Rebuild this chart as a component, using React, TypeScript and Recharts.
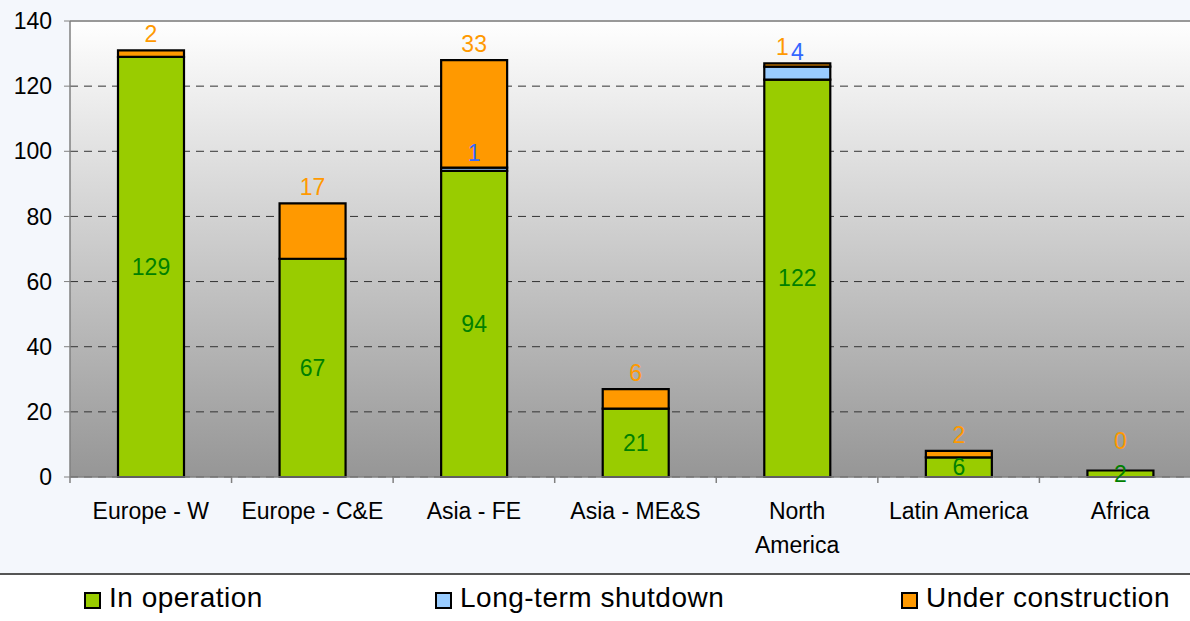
import React from 'react';
import { BarChart, Bar, XAxis, YAxis, CartesianGrid, ReferenceLine, Legend, LabelList } from 'recharts';

const regions = ['Europe - W', 'Europe - C&E', 'Asia - FE', 'Asia - ME&S', 'North America', 'Latin America', 'Africa'];
const tickLabels = [['Europe - W'], ['Europe - C&E'], ['Asia - FE'], ['Asia - ME&S'], ['North', 'America'], ['Latin America'], ['Africa']];
const inOperation = [129, 67, 94, 21, 122, 6, 2];
const longTermShutdown = [0, 0, 1, 0, 4, 0, 0];
const underConstruction = [2, 17, 33, 6, 1, 2, 0];
const yTicks = [0, 20, 40, 60, 80, 100, 120, 140];

const seriesNames = ['In operation', 'Long-term shutdown', 'Under construction'];

const data = regions.map((region, i) => ({
  region,
  operation: inOperation[i],
  shutdown: longTermShutdown[i],
  construction: underConstruction[i],
}));

const FONT = '"Liberation Sans", Arial, sans-serif';
const PLOT_TOP = 21;
const PLOT_BOTTOM = 477;
const CAT_W = 161.6;
const PX_PER_UNIT = (PLOT_BOTTOM - PLOT_TOP) / 140;

const GREEN = '#99cc00';
const BLUE = '#99ccff';
const ORANGE = '#ff9900';

// small construction segment + shutdown label => put both labels side by side above the bar
const crowded = (i: number) => longTermShutdown[i] > 0 && underConstruction[i] * PX_PER_UNIT < 22;

function box(p: any) {
  const vb = p.viewBox && typeof p.viewBox.x === 'number' ? p.viewBox : p;
  return { x: Number(vb.x), y: Number(vb.y), width: Number(vb.width), height: Number(vb.height) };
}

function ConstructionLabel(p: any) {
  const { x, y, width } = box(p);
  const i = p.index;
  const cx = x + width / 2 + (crowded(i) ? -15 : 0);
  return (
    <text x={cx} y={y - 16} textAnchor="middle" dominantBaseline="central" fontSize={23} fontFamily={FONT} fill="#ff9900">
      {p.value}
    </text>
  );
}

// zero-height construction segments get no label of their own, so draw them from the green bar
function ZeroConstructionLabel(p: any) {
  if (p.value !== 0) return null;
  const { x, y, width } = box(p);
  return (
    <text x={x + width / 2} y={y - 29} textAnchor="middle" dominantBaseline="central" fontSize={23} fontFamily={FONT} fill="#ff9900">
      {p.value}
    </text>
  );
}

function ShutdownLabel(p: any) {
  if (!p.value) return null;
  const { x, y, width } = box(p);
  const i = p.index;
  const cx = x + width / 2 + (crowded(i) ? 12 : 0);
  const cy = crowded(i) ? y - 23 : y - 15;
  return (
    <text x={cx} y={cy} textAnchor="middle" dominantBaseline="central" fontSize={23} fontFamily={FONT} fill="#3366ff">
      {p.value}
    </text>
  );
}

function RegionTick(props: any) {
  const { x, y, payload } = props;
  const idx = regions.indexOf(payload.value);
  const lines = tickLabels[idx] ?? [payload.value];
  const left = x - CAT_W / 2;
  return (
    <g>
      <line x1={left} x2={left} y1={y} y2={y + 6} stroke="#808080" strokeWidth={1.5} />
      <text x={x} y={y + 42} textAnchor="middle" fontSize={23} fontFamily={FONT} fill="#000">
        {lines.map((l, k) => (
          <tspan key={k} x={x} dy={k === 0 ? 0 : 34}>{l}</tspan>
        ))}
      </text>
    </g>
  );
}

const LEGEND_X = [84, 435, 901];
const LEGEND_COLORS = [GREEN, BLUE, ORANGE];

function ChartLegend() {
  return (
    <div style={{ position: 'relative', width: 1190, height: 46, background: '#fff', borderTop: '2px solid #555', fontFamily: FONT }}>
      {seriesNames.map((name, i) => (
        <div key={name} style={{ position: 'absolute', left: LEGEND_X[i], top: 0, height: 46, display: 'flex', alignItems: 'center' }}>
          <span style={{ display: 'inline-block', width: 17, height: 17, boxSizing: 'border-box', border: '2px solid #000', background: LEGEND_COLORS[i], marginRight: 8, marginTop: 4 }} />
          <span style={{ fontSize: 28, letterSpacing: 0.5, color: '#000' }}>{name}</span>
        </div>
      ))}
    </div>
  );
}

export default function App() {
  return (
    <div style={{ position: 'absolute', left: 0, top: 0, width: 1190, height: 621, overflow: 'hidden', background: '#f4f7fc', fontFamily: FONT }}>
      <svg width={0} height={0} style={{ position: 'absolute' }}>
        <defs>
          <linearGradient id="plotBg" x1="0" y1="0" x2="0" y2="1">
            <stop offset="0%" stopColor="#ffffff" />
            <stop offset="100%" stopColor="#969696" />
          </linearGradient>
        </defs>
      </svg>
      <BarChart
        width={1202}
        height={621}
        data={data}
        margin={{ top: PLOT_TOP, right: 1, left: 0, bottom: 0 }}
        barSize={66}
      >
        <CartesianGrid vertical={false} stroke="#333" strokeDasharray="8 6" fill="url(#plotBg)" fillOpacity={1} />
        <ReferenceLine y={140} stroke="#999" strokeWidth={2} />
        <XAxis
          dataKey="region"
          height={96}
          interval={0}
          tickSize={0}
          tickMargin={0}
          axisLine={{ stroke: '#808080', strokeWidth: 1.5 }}
          tick={<RegionTick />}
        />
        <YAxis
          width={70}
          domain={[0, 140]}
          ticks={yTicks}
          interval={0}
          tickSize={6}
          tickMargin={12}
          axisLine={{ stroke: '#808080', strokeWidth: 1.5 }}
          tickLine={{ stroke: '#808080' }}
          tick={{ fill: '#000', fontSize: 23, fontFamily: FONT }}
        />
        <Bar dataKey="operation" name={seriesNames[0]} stackId="a" fill={GREEN} stroke="#000" strokeWidth={2.2} isAnimationActive={false}>
          <LabelList dataKey="operation" position="center" fill="#008000" fontSize={23} fontFamily={FONT} />
          <LabelList dataKey="construction" content={<ZeroConstructionLabel />} />
        </Bar>
        <Bar dataKey="shutdown" name={seriesNames[1]} stackId="a" fill={BLUE} stroke="#000" strokeWidth={2.2} isAnimationActive={false}>
          <LabelList dataKey="shutdown" content={<ShutdownLabel />} />
        </Bar>
        <Bar dataKey="construction" name={seriesNames[2]} stackId="a" fill={ORANGE} stroke="#000" strokeWidth={2.2} isAnimationActive={false}>
          <LabelList dataKey="construction" content={<ConstructionLabel />} />
        </Bar>
        <Legend content={<ChartLegend />} wrapperStyle={{ left: 0, top: 573, width: 1190, height: 48 }} />
      </BarChart>
    </div>
  );
}
